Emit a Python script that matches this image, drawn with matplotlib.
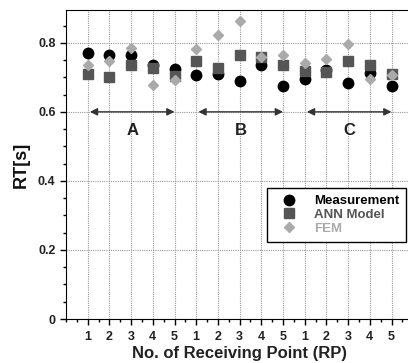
import matplotlib
matplotlib.use("Agg")
import matplotlib.pyplot as plt
from matplotlib.ticker import MultipleLocator, FixedLocator

plt.rcParams['font.family'] = ['Liberation Sans', 'DejaVu Sans']
plt.rcParams['font.weight'] = 'bold'

rp_labels = ['1', '2', '3', '4', '5'] * 3
x_pos = list(range(1, 16))
measurement = [0.770, 0.765, 0.765, 0.736, 0.724,
               0.707, 0.710, 0.688, 0.736, 0.676,
               0.695, 0.720, 0.685, 0.712, 0.675]
ann_model = [0.710, 0.702, 0.736, 0.727, 0.704,
             0.746, 0.727, 0.765, 0.758, 0.736,
             0.719, 0.714, 0.746, 0.736, 0.710]
fem = [0.736, 0.746, 0.785, 0.678, 0.693,
       0.782, 0.823, 0.862, 0.760, 0.765,
       0.741, 0.753, 0.796, 0.695, 0.707]
groups = ['A', 'B', 'C']
group_ranges = [(1.1, 5.0), (6.1, 10.0), (11.1, 15.0)]
arrow_y = 0.6
label_y = 0.545

fig = plt.figure(figsize=(4.08, 3.63), dpi=100)
ax = fig.add_axes([66/408, 44/363, 0.851, 309/363])

ax.set_xlim(0, 16)
ax.set_ylim(0, 0.895)

ax.xaxis.set_major_locator(FixedLocator(x_pos))
ax.set_xticklabels(rp_labels)
ax.xaxis.set_minor_locator(MultipleLocator(0.5))
ax.yaxis.set_minor_locator(MultipleLocator(0.05))
ax.set_yticks([0, 0.2, 0.4, 0.6, 0.8])
ax.set_yticklabels(['0', '0.2', '0.4', '0.6', '0.8'])

ax.grid(True, which='major', linestyle=(0, (1, 1)), color='#999999', linewidth=0.8)
ax.set_axisbelow(True)
ax.tick_params(axis='both', which='major', direction='out', length=4, width=1,
               labelsize=9, top=False, right=False)
ax.tick_params(axis='x', which='major', pad=5)
ax.tick_params(axis='both', which='minor', direction='out', length=2.5, width=1,
               top=False, right=False)
for lab in ax.get_xticklabels() + ax.get_yticklabels():
    lab.set_fontweight('bold')
    lab.set_color('#222222')

ax.plot(x_pos, measurement, 'o', color='black', markersize=7.5, label='Measurement', zorder=3)
ax.plot(x_pos, ann_model, 's', color='#555555', markersize=7, label='ANN Model', zorder=4)
ax.plot(x_pos, fem, 'D', color='#aaaaaa', markersize=5.5, label='FEM', zorder=5)

for g, (x0, x1) in zip(groups, group_ranges):
    ax.annotate('', xy=(x0, arrow_y), xytext=(x1, arrow_y),
                arrowprops=dict(arrowstyle='<|-|>', color='#333333', lw=1.0,
                                mutation_scale=11, shrinkA=0, shrinkB=0), zorder=6)
    ax.text((x0 + x1) / 2, label_y, g, ha='center', va='center',
            fontsize=12, fontweight='bold', color='#222222')

ax.set_xlabel('No. of Receiving Point (RP)', fontsize=12, fontweight='bold', labelpad=2,
              color='#222222')
ax.set_ylabel('RT[s]', fontsize=13, fontweight='bold', labelpad=6, color='#111111')

leg = ax.legend(loc='upper left', bbox_to_anchor=(0.579, 0.424), borderaxespad=0,
                fancybox=False, edgecolor='black', framealpha=1, fontsize=9.5,
                handletextpad=0.8, labelspacing=0.1, borderpad=0.55, handlelength=2.2)
leg.get_frame().set_linewidth(1.0)
for t, c in zip(leg.get_texts(), ['black', '#555555', '#aaaaaa']):
    t.set_color(c)
    t.set_fontweight('bold')

fig.savefig('out.png', dpi=100)
